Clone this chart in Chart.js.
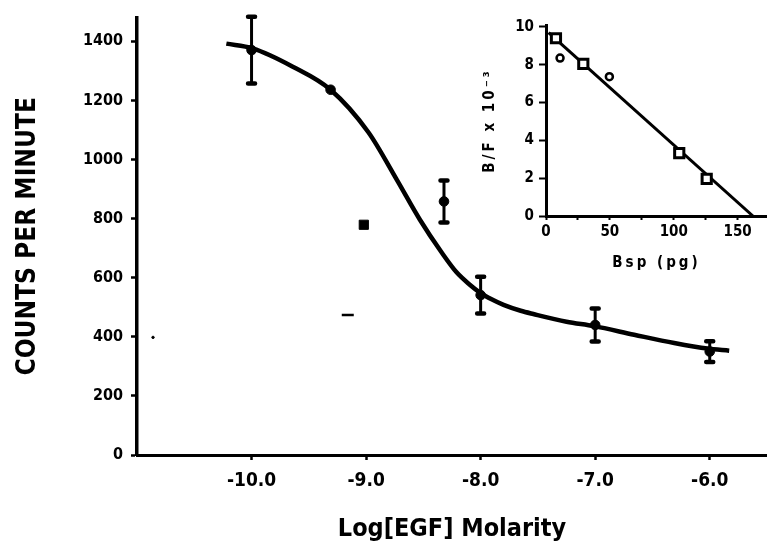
<!DOCTYPE html>
<html><head><meta charset="utf-8">
<script src="https://cdn.jsdelivr.net/npm/chart.js@4/dist/chart.umd.min.js"></script>
<style>
html,body{margin:0;padding:0;background:#fff;}
#wrap{position:relative;width:767px;height:552px;overflow:hidden;}
#main{position:absolute;left:0;top:0;}
#inset{position:absolute;left:470px;top:0;}
</style></head><body>
<div id="wrap">
<canvas id="main" width="767" height="552"></canvas>
<canvas id="inset" width="297" height="290"></canvas>
</div>
<script>
// ---- main panel data ----
const logDose = [-10, -9.31, -8.32, -8, -7, -6];
const counts = [1370, 1236, 858, 541, 440, 350];
const countsErr = [113, 0, 71, 62, 56, 35];
const squareDose = [-9.02];
const squareCounts = [779];
const strayDose = [-9.16, -10.86];
const strayCounts = [474, 398];
const curveDose = [-10.22, -9.99, -9.64, -9.31, -8.98, -8.73, -8.53, -8.34, -8.21, -8.1, -8.0, -7.9, -7.8, -7.65, -7.54, -7.25, -7.01, -6.66, -6.31, -6.02, -5.83];
const curveCounts = [1392, 1376, 1314, 1236, 1092, 930, 796, 685, 618, 578, 548, 526, 508, 488, 477, 451, 436, 407, 379, 360, 353];
const yTicks = [0, 200, 400, 600, 800, 1000, 1200, 1400];
const xTicks = [-10, -9, -8, -7, -6];
const xTickLabels = ['-10.0', '-9.0', '-8.0', '-7.0', '-6.0'];
// ---- inset (Scatchard) data ----
const bspSquare = [7.8, 29.2, 104.3, 125.8];
const bfSquare = [9.4, 8.04, 3.32, 1.96];
const bspCircle = [11, 49.6];
const bfCircle = [8.35, 7.37];
const fitBsp = [2, 162];
const fitBf = [9.7, 0];
const insetYTicks = [0, 2, 4, 6, 8, 10];
const insetXTicks = [0, 25, 50, 75, 100, 125, 150];
const insetXLabelTicks = [0, 50, 100, 150];

const F = "'DejaVu Sans Condensed','Liberation Sans Narrow','DejaVu Sans',sans-serif";
const pts = (xs, ys) => xs.map((x, i) => ({x: x, y: ys[i]}));

const errorBars = {
  id: 'errorBars',
  afterDatasetsDraw(chart) {
    const ctx = chart.ctx, xs = chart.scales.x, ys = chart.scales.y;
    ctx.save();
    ctx.strokeStyle = '#000';
    ctx.lineCap = 'round';
    logDose.forEach((d, i) => {
      const e = countsErr[i];
      if (!e) return;
      const px = xs.getPixelForValue(d);
      const top = ys.getPixelForValue(counts[i] + e);
      const bot = ys.getPixelForValue(counts[i] - e);
      ctx.lineWidth = 3;
      ctx.beginPath(); ctx.moveTo(px, top); ctx.lineTo(px, bot); ctx.stroke();
      ctx.lineWidth = 4.5;
      ctx.beginPath();
      ctx.moveTo(px - 3.5, top); ctx.lineTo(px + 3.5, top);
      ctx.moveTo(px - 3.5, bot); ctx.lineTo(px + 3.5, bot);
      ctx.stroke();
    });
    ctx.restore();
  }
};

new Chart(document.getElementById('main'), {
  type: 'scatter',
  data: {
    datasets: [
      {type: 'line', data: pts(curveDose, curveCounts), borderColor: '#000', borderWidth: 4.5,
       pointRadius: 0, cubicInterpolationMode: 'monotone', fill: false, order: 5},
      {data: pts(logDose, counts), pointStyle: 'circle', pointRadius: 4.8,
       backgroundColor: '#000', borderColor: '#000', borderWidth: 1, order: 1},
      {data: pts(squareDose, squareCounts), pointStyle: 'rect', pointRadius: 6.5,
       backgroundColor: '#000', borderColor: '#000', borderWidth: 1, order: 1},
      {data: pts(strayDose, strayCounts), pointStyle: ['line', 'circle'], pointRadius: [6, 1.2],
       backgroundColor: '#000', borderColor: '#000', borderWidth: [2.5, 1], order: 1}
    ]
  },
  options: {
    responsive: false, animation: false, devicePixelRatio: 1,
    layout: {autoPadding: false, padding: {top: 13, right: 0, left: 0, bottom: 0}},
    plugins: {legend: {display: false}, tooltip: {enabled: false}},
    scales: {
      x: {
        type: 'linear', position: 'bottom', min: -11, max: -5.5,
        afterBuildTicks: s => { s.ticks = xTicks.map(v => ({value: v})); },
        afterFit: s => { s.height = 97; },
        ticks: {
          autoSkip: false, maxRotation: 0, color: '#000', padding: 10,
          font: {family: F, size: 19, weight: 'bold'},
          callback: v => { const i = xTicks.indexOf(v); return i >= 0 ? xTickLabels[i] : ''; }
        },
        grid: {drawOnChartArea: false, drawTicks: true, tickLength: 5, tickWidth: 2.5, tickColor: '#000'},
        border: {display: true, color: '#000', width: 3},
        title: {display: true, text: 'Log[EGF] Molarity', color: '#000',
                font: {family: F, size: 25, weight: 'bold'}, padding: {top: 0, bottom: 8}}
      },
      y: {
        type: 'linear', position: 'left', min: 0, max: 1480,
        afterBuildTicks: s => { s.ticks = yTicks.map(v => ({value: v})); },
        afterFit: s => { s.width = 137; },
        ticks: {color: '#000', padding: 8, font: {family: F, size: 16, weight: 'bold'},
                callback: v => String(v)},
        grid: {drawOnChartArea: false, drawTicks: true, tickLength: 6, tickWidth: 2.5, tickColor: '#000'},
        border: {display: true, color: '#000', width: 3.5},
        title: {display: true, text: 'COUNTS PER MINUTE', color: '#000',
                font: {family: F, size: 26, weight: 'bold'}, padding: {top: 13, bottom: 0}}
      }
    }
  },
  plugins: [errorBars]
});

const spacing = {
  id: 'spacing',
  beforeDraw(chart) { chart.ctx.letterSpacing = '3px'; },
  afterDatasetsDraw(chart) { chart.ctx.letterSpacing = '0px'; },
  afterDraw(chart) { chart.ctx.letterSpacing = '0px'; }
};

new Chart(document.getElementById('inset'), {
  type: 'scatter',
  data: {
    datasets: [
      {type: 'line', data: pts(fitBsp, fitBf), borderColor: '#000', borderWidth: 3,
       pointRadius: 0, fill: false, order: 5},
      {data: pts(bspSquare, bfSquare), pointStyle: 'rect', pointRadius: 6.5,
       backgroundColor: '#fff', borderColor: '#000', borderWidth: 3, order: 1},
      {data: pts(bspCircle, bfCircle), pointStyle: 'circle', pointRadius: 3.5,
       backgroundColor: '#fff', borderColor: '#000', borderWidth: 2.5, order: 1}
    ]
  },
  options: {
    responsive: false, animation: false, devicePixelRatio: 1,
    layout: {autoPadding: false, padding: {top: 25, right: 0, left: 0, bottom: 0}},
    plugins: {legend: {display: false}, tooltip: {enabled: false}},
    scales: {
      x: {
        type: 'linear', position: 'bottom', min: 0, max: 173,
        afterBuildTicks: s => { s.ticks = insetXTicks.map(v => ({value: v})); },
        afterFit: s => { s.height = 74; },
        ticks: {
          z: 1, autoSkip: false, maxRotation: 0, color: '#000', padding: 3,
          font: {family: F, size: 15, weight: 'bold'},
          callback: v => insetXLabelTicks.includes(v) ? String(v) : ''
        },
        grid: {drawOnChartArea: false, drawTicks: true, tickLength: 4, tickWidth: 2, tickColor: '#000'},
        border: {display: true, color: '#000', width: 3},
        title: {display: true, text: 'Bsp (pg)', color: '#000',
                font: {family: F, size: 15, weight: 'bold'}, padding: {top: 0, bottom: 18}}
      },
      y: {
        type: 'linear', position: 'left', min: 0, max: 10.1,
        afterBuildTicks: s => { s.ticks = insetYTicks.map(v => ({value: v})); },
        afterFit: s => { s.width = 76; },
        ticks: {z: 1, color: '#000', padding: 5, font: {family: F, size: 15, weight: 'bold'}},
        grid: {drawOnChartArea: false, drawTicks: true, tickLength: 7, tickWidth: 2, tickColor: '#000'},
        border: {display: true, color: '#000', width: 3},
        title: {display: true, text: 'B/F x 10⁻³', color: '#000',
                font: {family: F, size: 15, weight: 'bold'}, padding: {top: 11, bottom: 0}}
      }
    }
  },
  plugins: [spacing]
});
</script>
</body></html>
